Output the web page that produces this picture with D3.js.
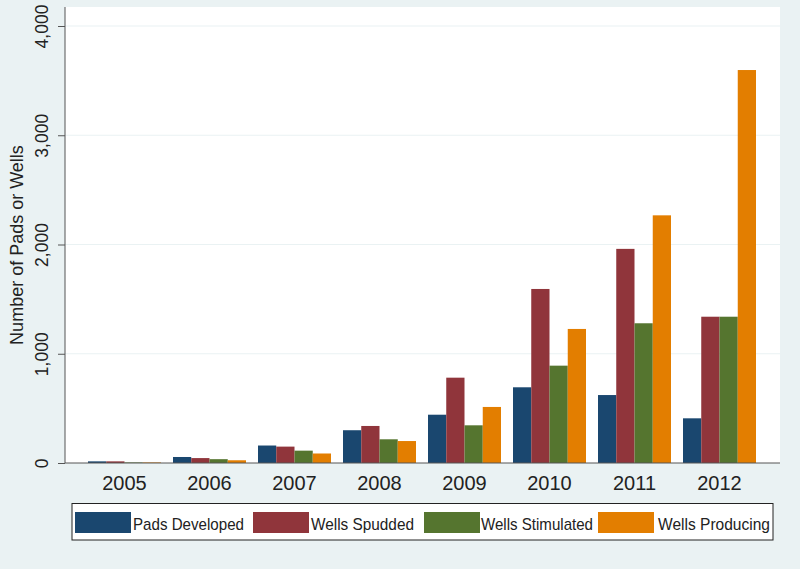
<!DOCTYPE html>
<html>
<head>
<meta charset="utf-8">
<script src="https://cdn.jsdelivr.net/npm/d3@7"></script>
<style>
  html, body { margin: 0; padding: 0; background: #eaf2f3; }
  svg { display: block; font-family: "Liberation Sans", Arial, sans-serif; }
</style>
</head>
<body>
<svg id="chart" width="800" height="569"></svg>
<script>
const years = ["2005", "2006", "2007", "2008", "2009", "2010", "2011", "2012"];
const seriesNames = ["Pads Developed", "Wells Spudded", "Wells Stimulated", "Wells Producing"];
const padsDeveloped   = [15, 55, 160, 300, 442, 693, 622, 409];
const wellsSpudded    = [15, 45, 150, 339, 781, 1593, 1960, 1339];
const wellsStimulated = [5, 35, 113, 217, 345, 891, 1279, 1339];
const wellsProducing  = [5, 25, 87, 201, 513, 1227, 2267, 3597];
const yTicks = [0, 1000, 2000, 3000, 4000];
const colors = ["#1a476f", "#90353b", "#55752f", "#e37e00"];
const seriesValues = [padsDeveloped, wellsSpudded, wellsStimulated, wellsProducing];

const svg = d3.select("#chart");
const W = 800, H = 569;
svg.append("rect").attr("width", W).attr("height", H).attr("fill", "#eaf2f3");

const plot = { left: 65, right: 780, top: 7, bottom: 463 };

svg.append("rect")
  .attr("x", plot.left).attr("y", plot.top)
  .attr("width", plot.right - plot.left).attr("height", plot.bottom - plot.top)
  .attr("fill", "#ffffff");

const y = d3.scaleLinear().domain([0, 4000]).range([463, 26]);
const x0 = d3.scaleBand().domain(years).range([76, 768]).paddingInner(12/85).paddingOuter(12/85);
const x1 = d3.scaleBand().domain(seriesNames).range([0, x0.bandwidth()]);

// gridlines
svg.append("g").selectAll("line").data(yTicks.filter(d => d > 0)).join("line")
  .attr("x1", plot.left).attr("x2", plot.right)
  .attr("y1", d => y(d)).attr("y2", d => y(d))
  .attr("stroke", "#eaf2f3").attr("stroke-width", 1.2);

// bars
const groups = svg.append("g").selectAll("g").data(years).join("g")
  .attr("transform", d => `translate(${x0(d)},0)`);
groups.selectAll("rect").data((d, i) => seriesNames.map((s, j) => ({ s, v: seriesValues[j][i], c: colors[j] })))
  .join("rect")
  .attr("x", d => x1(d.s))
  .attr("width", x1.bandwidth())
  .attr("y", d => y(d.v))
  .attr("height", d => y(0) - y(d.v))
  .attr("fill", d => d.c);

// y axis
const yAxis = svg.append("g").attr("transform", `translate(${plot.left},0)`)
  .call(d3.axisLeft(y).tickValues(yTicks).tickFormat(d3.format(",")).tickSize(7).tickSizeOuter(0));
yAxis.select(".domain").attr("stroke", "#555").attr("d", `M0,${plot.top}V${plot.bottom}`);
yAxis.selectAll(".tick line").attr("stroke", "#555");
yAxis.selectAll(".tick text")
  .attr("x", null).attr("dy", null)
  .attr("transform", "translate(-17,0) rotate(-90)")
  .attr("text-anchor", "middle")
  .attr("font-size", 17.5)
  .attr("fill", "#222");

// x axis line
const xAxis = svg.append("g").attr("transform", `translate(0,${plot.bottom})`)
  .call(d3.axisBottom(x0).tickSize(0).tickSizeOuter(0));
xAxis.select(".domain").attr("stroke", "#555").attr("d", `M${plot.left},0H${plot.right}`);
xAxis.selectAll(".tick text")
  .attr("y", 27).attr("dy", null)
  .attr("font-size", 20)
  .attr("fill", "#222");

// y axis title
svg.append("text")
  .attr("transform", "translate(23,245) rotate(-90)")
  .attr("text-anchor", "middle")
  .attr("font-size", 18)
  .attr("fill", "#222")
  .text("Number of Pads or Wells");

// legend
const lg = svg.append("g");
lg.append("rect").attr("x", 72).attr("y", 503.5).attr("width", 701).attr("height", 36.5)
  .attr("fill", "#ffffff").attr("stroke", "#222").attr("stroke-width", 1);
const swX = [75, 253, 424, 598];
const txX = [133, 311, 481, 658];
const txW = [111, 103, 112, 112];
seriesNames.forEach((s, i) => {
  lg.append("rect").attr("x", swX[i]).attr("y", 512).attr("width", 56).attr("height", 21).attr("fill", colors[i]);
  lg.append("text").attr("x", txX[i]).attr("y", 530)
    .attr("font-size", 17).attr("fill", "#222")
    .attr("textLength", txW[i]).attr("lengthAdjust", "spacingAndGlyphs")
    .text(s);
});
</script>
</body>
</html>
